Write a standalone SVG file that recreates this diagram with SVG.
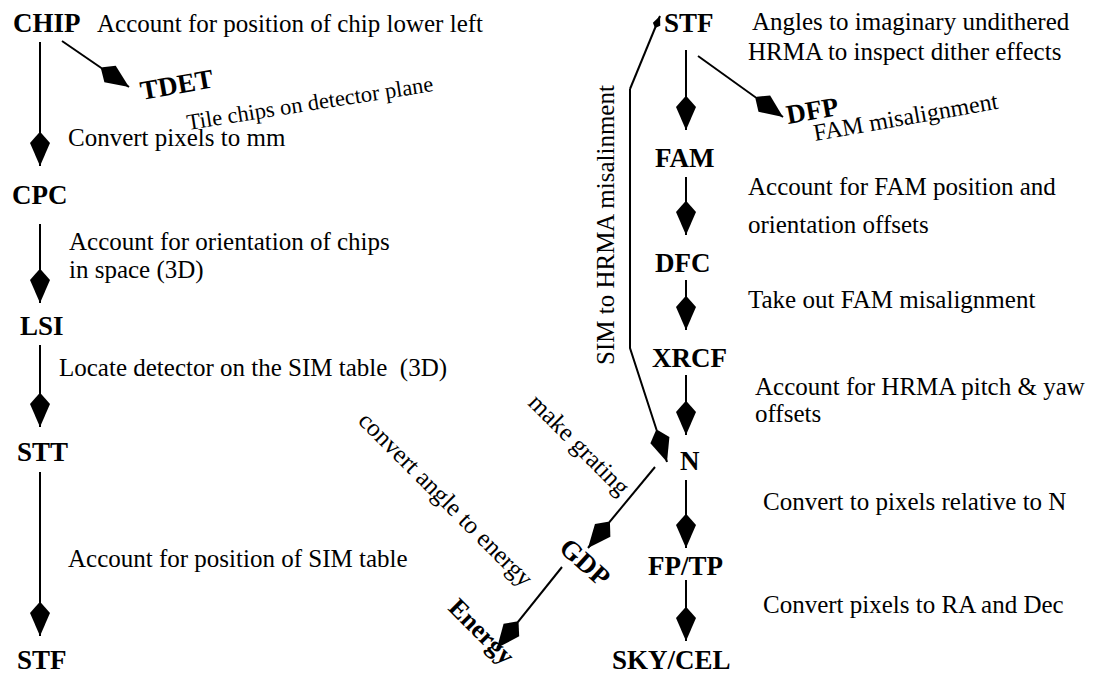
<svg xmlns="http://www.w3.org/2000/svg" width="1094" height="676" viewBox="0 0 1094 676">
<defs>
<marker id="ah" viewBox="-36 -12 37 24" refX="0" refY="0" markerWidth="37" markerHeight="24" orient="auto" markerUnits="userSpaceOnUse"><path d="M0,0 L-23,-10 L-33,-1.2 L-33,1.2 L-23,10 Z" fill="#000"/></marker>
<marker id="ahs" viewBox="-14 -5 15 10" refX="0" refY="0" markerWidth="15" markerHeight="10" orient="auto" markerUnits="userSpaceOnUse"><path d="M0,0 L-9,-4 L-13,0 L-9,4 Z" fill="#000"/></marker>
<style>
.n{font-family:"Liberation Serif","Times New Roman",serif;font-weight:bold;font-size:27px;fill:#000}
.t{font-family:"Liberation Serif","Times New Roman",serif;font-size:25px;fill:#000}
.c{stroke:#000;stroke-width:2;fill:none}
.a{marker-end:url(#ah)}
</style>
</defs>
<rect width="1094" height="676" fill="#fff"/>
<g id="connectors">
<line class="c a" x1="40" y1="42" x2="40" y2="166"/>
<line class="c a" x1="62" y1="41" x2="129" y2="87"/>
<line class="c a" x1="40" y1="224" x2="40" y2="303"/>
<line class="c a" x1="40" y1="345" x2="40" y2="427"/>
<line class="c a" x1="40" y1="472" x2="40" y2="636"/>
<line class="c a" x1="686" y1="50" x2="686" y2="130"/>
<line class="c a" x1="698" y1="56" x2="783" y2="117"/>
<line class="c a" x1="686" y1="177" x2="686" y2="235"/>
<line class="c a" x1="686" y1="280" x2="686" y2="330"/>
<line class="c a" x1="686" y1="375" x2="686" y2="435"/>
<line class="c a" x1="686" y1="480" x2="686" y2="548"/>
<line class="c a" x1="686" y1="580" x2="686" y2="641"/>
<polyline class="c" points="630,89 630,348 667,462" marker-end="url(#ah)"/>
<line class="c" x1="630" y1="89" x2="660" y2="16" marker-end="url(#ahs)"/>
<line class="c a" x1="655" y1="467" x2="588" y2="548"/>
<line class="c a" x1="562" y1="567" x2="497" y2="648"/>
</g>
<g id="node-chip"><text class="n" x="13" y="32">CHIP</text></g>
<g id="node-tdet"><text class="n" transform="translate(142,100) rotate(-10)">TDET</text></g>
<g id="node-cpc"><text class="n" x="12" y="204">CPC</text></g>
<g id="node-lsi"><text class="n" x="20" y="335">LSI</text></g>
<g id="node-stt"><text class="n" x="17" y="461">STT</text></g>
<g id="node-stf-left"><text class="n" x="17" y="669">STF</text></g>
<g id="node-stf-right"><text class="n" x="664" y="32">STF</text></g>
<g id="node-dfp"><text class="n" transform="translate(788,124) rotate(-10)">DFP</text></g>
<g id="node-fam"><text class="n" x="655" y="167">FAM</text></g>
<g id="node-dfc"><text class="n" x="655" y="272">DFC</text></g>
<g id="node-xrcf"><text class="n" x="652" y="367">XRCF</text></g>
<g id="node-n"><text class="n" x="680" y="470">N</text></g>
<g id="node-fptp"><text class="n" x="648" y="575">FP/TP</text></g>
<g id="node-skycel"><text class="n" x="612" y="669">SKY/CEL</text></g>
<g id="node-gdp"><text class="n" text-anchor="middle" transform="translate(579,569) rotate(42)">GDP</text></g>
<g id="node-energy"><text class="n" style="font-size:26px" transform="translate(447,609) rotate(45)">Energy</text></g>
<g id="labels">
<text class="t" x="97" y="32">Account for position of chip lower left</text>
<text class="t" style="font-size:22.5px" transform="translate(188,130) rotate(-9)">Tile chips on detector plane</text>
<text class="t" x="68" y="146">Convert pixels to mm</text>
<text class="t" x="69" y="250">Account for orientation of chips</text>
<text class="t" x="69" y="278">in space (3D)</text>
<text class="t" x="59" y="376">Locate detector on the SIM table&#160; (3D)</text>
<text class="t" x="68" y="567">Account for position of SIM table</text>
<text class="t" x="752" y="30">Angles to imaginary undithered</text>
<text class="t" x="748" y="60">HRMA to inspect dither effects</text>
<text class="t" style="font-size:24px" transform="translate(815,141) rotate(-10)">FAM misalignment</text>
<text class="t" x="748" y="195">Account for FAM position and</text>
<text class="t" x="748" y="233">orientation offsets</text>
<text class="t" x="748" y="308">Take out FAM misalignment</text>
<text class="t" x="755" y="395">Account for HRMA pitch &amp; yaw</text>
<text class="t" x="755" y="422">offsets</text>
<text class="t" x="763" y="510">Convert to pixels relative to N</text>
<text class="t" x="763" y="613">Convert pixels to RA and Dec</text>
<text class="t" transform="translate(614,365) rotate(-90)">SIM to HRMA misalinment</text>
<text class="t" transform="translate(527,404) rotate(45)">make grating</text>
<text class="t" transform="translate(357,422) rotate(45)">convert angle to energy</text>
</g>
</svg>
